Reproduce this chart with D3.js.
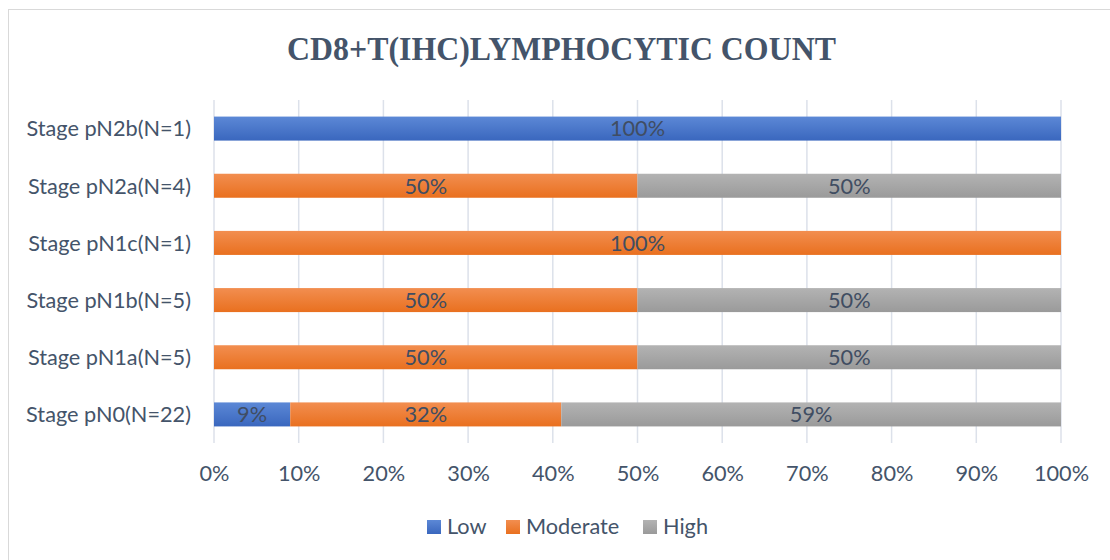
<!DOCTYPE html>
<html><head><meta charset="utf-8">
<script src="https://cdn.jsdelivr.net/npm/d3@7"></script>
<style>html,body{margin:0;padding:0;background:#fff;}svg{display:block;}</style>
</head><body>
<svg id="chart" width="1110" height="560"></svg>
<script>
const title = "CD8+T(IHC)LYMPHOCYTIC COUNT";
const categories = ["Stage pN2b(N=1)","Stage pN2a(N=4)","Stage pN1c(N=1)","Stage pN1b(N=5)","Stage pN1a(N=5)","Stage pN0(N=22)"];
const seriesNames = ["Low","Moderate","High"];
const lowValues = [100, 0, 0, 0, 0, 9];
const moderateValues = [0, 50, 100, 50, 50, 32];
const highValues = [0, 50, 0, 50, 50, 59];
const xTicks = [0,10,20,30,40,50,60,70,80,90,100];

const colors = {
  Low: ["#5C88D6", "#3A67BE"],
  Moderate: ["#F28E50", "#E9701F"],
  High: ["#B3B3B3", "#9A9A9A"]
};
const textColor = "#44546A";
const font = "Lato, 'Open Sans', sans-serif";

const svg = d3.select("#chart");
const W = 1110, H = 560;
const m = {left: 214, right: 1061, top: 100, bottom: 443};

// gradients
const defs = svg.append("defs");
seriesNames.forEach(s => {
  const g = defs.append("linearGradient").attr("id", "g" + s).attr("x1", 0).attr("y1", 0).attr("x2", 0).attr("y2", 1);
  g.append("stop").attr("offset", "0%").attr("stop-color", colors[s][0]);
  g.append("stop").attr("offset", "100%").attr("stop-color", colors[s][1]);
});

// background + border
svg.append("rect").attr("x", 0).attr("y", 0).attr("width", W).attr("height", H).attr("fill", "#fff");
svg.append("rect").attr("x", 8.5).attr("y", 9.5).attr("width", W + 10).attr("height", H + 10)
  .attr("fill", "none").attr("stroke", "#D9D9D9").attr("stroke-width", 1);

// font size fitting (Calibri-like metrics emulated with Lato)
function measure(txt, size, fam, weight) {
  const t = svg.append("text").attr("font-family", fam).attr("font-size", size).attr("font-weight", weight || "normal").text(txt);
  const w = t.node().getComputedTextLength();
  t.remove();
  return w;
}
const fs = 22 * 165 / measure("Stage pN0(N=22)", 22, font);

const x = d3.scaleLinear().domain([0, 100]).range([m.left, m.right]);
const y = d3.scaleBand().domain(categories).range([m.top, m.bottom]).paddingInner(0.58).paddingOuter(0.29);

// gridlines
svg.append("g").selectAll("line").data(xTicks).join("line")
  .attr("x1", d => x(d)).attr("x2", d => x(d))
  .attr("y1", m.top).attr("y2", m.bottom)
  .attr("stroke", "#DCE1EA").attr("stroke-width", 1.5);

// x axis labels
const xAxis = d3.axisBottom(x).tickValues(xTicks).tickFormat(d => d + "%").tickSize(0).tickPadding(0);
const gx = svg.append("g").attr("transform", `translate(0,${m.bottom})`).call(xAxis);
gx.select(".domain").remove();
gx.selectAll("text").attr("font-family", font).attr("font-size", fs).attr("fill", textColor)
  .attr("dy", null).attr("y", 38);

// y axis labels
const yAxis = d3.axisLeft(y).tickSize(0).tickPadding(23);
const gy = svg.append("g").attr("transform", `translate(${m.left},0)`).call(yAxis);
gy.select(".domain").remove();
gy.selectAll("text").attr("font-family", font).attr("font-size", fs).attr("fill", textColor)
  .attr("dy", "0.36em");

// stacked data
const rows = categories.map((c, i) => ({cat: c, Low: lowValues[i], Moderate: moderateValues[i], High: highValues[i]}));
const stack = d3.stack().keys(seriesNames)(rows);

const gBars = svg.append("g");
stack.forEach(layer => {
  const key = layer.key;
  const g = gBars.append("g");
  g.selectAll("rect").data(layer.filter(d => d[1] - d[0] > 0)).join("rect")
    .attr("x", d => x(d[0])).attr("width", d => x(d[1]) - x(d[0]))
    .attr("y", d => y(d.data.cat)).attr("height", y.bandwidth())
    .attr("fill", `url(#g${key})`);
  g.selectAll("text").data(layer.filter(d => d[1] - d[0] > 0)).join("text")
    .attr("x", d => (x(d[0]) + x(d[1])) / 2)
    .attr("y", d => y(d.data.cat) + y.bandwidth() / 2)
    .attr("dy", "0.36em")
    .attr("text-anchor", "middle")
    .attr("font-family", font).attr("font-size", fs).attr("fill", "#404D62")
    .text(d => (d[1] - d[0]) + "%");
});

// title
const tt = svg.append("text").attr("font-family", "'Liberation Serif', 'Times New Roman', serif")
  .attr("font-weight", "bold").attr("font-size", 34).attr("fill", "#44546A")
  .attr("text-anchor", "middle").text(title);
const tw = tt.node().getComputedTextLength();
const sx = 549 / tw;
tt.attr("transform", `translate(561.5,60) scale(${sx},1)`);

// legend
const legItems = [{name: "Low", sw: 427, tx: 447}, {name: "Moderate", sw: 506, tx: 527}, {name: "High", sw: 643, tx: 663}];
const lg = svg.append("g");
const legendX = d3.scaleOrdinal().domain(seriesNames).range(legItems.map(d => d.sw));
seriesNames.forEach(s => {
  const sw = legendX(s);
  lg.append("rect").attr("x", sw).attr("y", 520).attr("width", 14).attr("height", 14).attr("fill", `url(#g${s})`);
  lg.append("text").attr("x", sw + 20).attr("y", 534).attr("font-family", font).attr("font-size", fs)
    .attr("fill", textColor).text(s);
});
</script>
</body></html>
